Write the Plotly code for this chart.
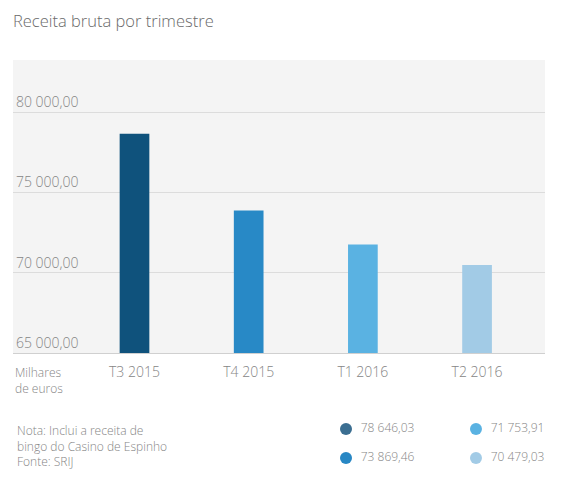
import plotly.graph_objects as go

# data
quarters = ["T3 2015", "T4 2015", "T1 2016", "T2 2016"]
revenue = [78646.03, 73869.46, 71753.91, 70479.03]  # milhares de euros
bar_colors = ["#0f527c", "#2889c6", "#5ab2e2", "#a2cbe6"]
dot_colors = ["#3b6e91", "#2887c4", "#5ab2e2", "#a2cbe6"]
y_ticks = [65000, 70000, 75000, 80000]

FONT = "Open Sans"
GREY = "#858585"
W = 300  # light weight, like the original


def fmt_pt(v):
    # 78 646,03
    return f"{v:,.2f}".replace(",", " ").replace(".", ",")


fig = go.Figure()

fig.add_trace(go.Bar(
    x=quarters,
    y=revenue,
    marker=dict(color=bar_colors, line=dict(width=0)),
    width=0.26,
    hoverinfo="skip",
    showlegend=False,
))

# value key under the chart, two columns of two
fig.add_trace(go.Scatter(
    x=[i // 2 for i in range(len(revenue))],
    y=[i % 2 for i in range(len(revenue))],
    mode="markers+text",
    marker=dict(color=dot_colors, size=12),
    text=["  " + fmt_pt(v) for v in revenue],
    textposition="middle right",
    textfont=dict(family=FONT, size=12, color=GREY, weight=W),
    xaxis="x2", yaxis="y2",
    hoverinfo="skip",
    showlegend=False,
    cliponaxis=False,
))

fig.update_layout(
    width=562, height=497,
    margin=dict(l=13, r=17, t=60, b=20),
    paper_bgcolor="white",
    plot_bgcolor="rgba(0,0,0,0)",
    separators=", ",
    font=dict(family=FONT, size=14, color=GREY, weight=W),
    title=dict(
        text="Receita bruta por trimestre",
        x=0.023, xanchor="left", y=0.958, yanchor="middle",
        font=dict(family=FONT, size=16.5, color="#6a6a6a", weight=W),
    ),
    xaxis=dict(
        range=[-1.064, 3.595],
        showgrid=False, zeroline=False,
        showline=True, linecolor="#d0d0d0", linewidth=1,
        ticks="outside", ticklen=6, tickcolor="rgba(0,0,0,0)",
        tickfont=dict(size=14, color=GREY, weight=W),
        fixedrange=True,
    ),
    yaxis=dict(
        domain=[0.2974, 1],
        range=[65000, 83244],
        tickvals=y_ticks,
        tickformat=",.2f",
        ticklabelposition="inside top",
        showgrid=True, gridcolor="#dcdcdc", gridwidth=1,
        zeroline=False, showline=False,
        tickfont=dict(size=14, color=GREY, weight=W),
        fixedrange=True,
    ),
    xaxis2=dict(
        domain=[0, 1], anchor="y2",
        range=[-2.562, 1.531],
        visible=False, fixedrange=True,
    ),
    yaxis2=dict(
        domain=[0, 0.2974], anchor="x2",
        range=[1.655, -2.621],
        visible=False, fixedrange=True,
    ),
    shapes=[
        # grey panel behind the bar chart only
        dict(type="rect", xref="x domain", yref="y domain",
             x0=0, x1=1, y0=0, y1=1, fillcolor="#f4f4f4",
             line=dict(width=0), layer="below"),
    ],
    annotations=[
        dict(
            text="Milhares<br>de euros",
            xref="paper", yref="paper", x=0, y=0.276,
            xanchor="left", yanchor="top", align="left",
            showarrow=False,
            font=dict(family=FONT, size=12, color=GREY, weight=W),
        ),
        dict(
            text="Nota: Inclui a receita de<br>bingo do Casino de Espinho<br>Fonte: SRIJ",
            xref="paper", yref="paper", x=0.004, y=0.137,
            xanchor="left", yanchor="top", align="left",
            showarrow=False,
            font=dict(family=FONT, size=12, color=GREY, weight=W),
        ),
    ],
    hovermode=False,
)

fig.write_html(
    "out.html",
    config={"displayModeBar": False},
    post_script="document.body.style.margin='0px';",
)
